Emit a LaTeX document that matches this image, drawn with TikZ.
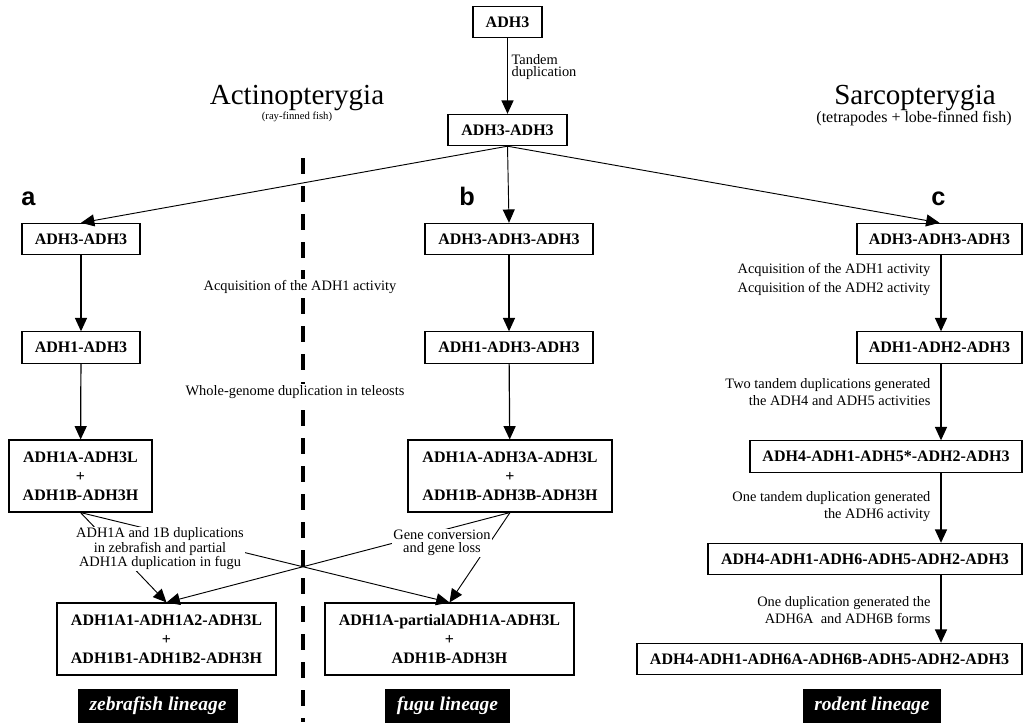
\documentclass[tikz,border=0pt]{standalone}
\usepackage{fontspec}
\setmainfont{Liberation Serif}
\newfontfamily\labsans{Liberation Sans}
\usetikzlibrary{arrows.meta}
\begin{document}
\begin{tikzpicture}[x=0.75pt,y=-0.75pt,
  box/.style={draw, line width=0.8pt, inner sep=0pt, align=center,
    font=\bfseries\fontsize{12}{14.25}\selectfont, minimum height=23.5pt},
  tall/.style={minimum height=54pt},
  lab/.style={font=\fontsize{10.8}{13}\selectfont, inner sep=1pt},
  tight/.style={font=\fontsize{10.8}{9.6}\selectfont},
  lin/.style={fill=black, text=white, inner sep=0pt, minimum height=26pt,
    font=\bfseries\itshape\fontsize{14.6}{16}\selectfont},
  arr/.style={-{Triangle[length=10pt,width=9pt]}, line width=0.9pt},
  arrthin/.style={-{Triangle[length=10pt,width=9pt]}, line width=0.7pt},
  dashline/.style={line width=2.6pt, dash pattern=on 12pt off 9pt},
  panel/.style={anchor=base, inner sep=0pt, font=\labsans\bfseries\fontsize{19}{20}\selectfont},
  title/.style={anchor=base, inner sep=0pt, font=\fontsize{21.8}{24}\selectfont}
]
\useasboundingbox (0,0) rectangle (1023,722);

% dashed separator
\coordinate (dtop) at (303,158);
\coordinate (dbot) at (303,722);
\draw[dashline] (dtop) -- (dbot);

% titles
\node[title] (actino) at (297,104) {Actinopterygia};
\node[anchor=base, inner sep=0pt, font=\fontsize{8}{9}\selectfont] (rayf) at (297,119) {(ray-finned fish)};
\node[title] (sarco) at (915,104) {Sarcopterygia};
\node[anchor=base, inner sep=0pt, font=\fontsize{12}{13}\selectfont] (tetra) at (914,122) {(tetrapodes + lobe-finned fish)};

% panel letters
\node[panel] (pa) at (28.5,205) {a};
\node[panel] (pb) at (467,205) {b};
\node[panel] (pc) at (938.5,205) {c};

% boxes
\node[box, minimum width=51.75pt] (top) at (507.5,22) {ADH3};
\node[box, minimum width=89.25pt] (tt) at (507.5,130) {ADH3-ADH3};

\node[box, minimum width=88.5pt] (a1) at (81,239) {ADH3-ADH3};
\node[box, minimum width=88.5pt] (a2) at (81,347.5) {ADH1-ADH3};
\node[box, tall, minimum width=107.25pt] (a3) at (80.5,476) {ADH1A-ADH3L\\+\\ADH1B-ADH3H};
\node[box, tall, minimum width=164.25pt] (a4) at (166.5,639) {ADH1A1-ADH1A2-ADH3L\\+\\ADH1B1-ADH1B2-ADH3H};

\node[box, minimum width=126pt] (b1) at (509,239) {ADH3-ADH3-ADH3};
\node[box, minimum width=126pt] (b2) at (509,347.5) {ADH1-ADH3-ADH3};
\node[box, tall, minimum width=153pt] (b3) at (510,476) {ADH1A-ADH3A-ADH3L\\+\\ADH1B-ADH3B-ADH3H};
\node[box, tall, minimum width=186.75pt] (b4) at (449.5,639) {ADH1A-partialADH1A-ADH3L\\+\\ADH1B-ADH3H};

\node[box, minimum width=123.75pt] (c1) at (939.5,239) {ADH3-ADH3-ADH3};
\node[box, minimum width=123.75pt] (c2) at (939.5,347.5) {ADH1-ADH2-ADH3};
\node[box, minimum width=204pt] (c3) at (886,456.5) {ADH4-ADH1-ADH5*-ADH2-ADH3};
\node[box, minimum width=235.5pt] (c4) at (865,559) {ADH4-ADH1-ADH6-ADH5-ADH2-ADH3};
\node[box, minimum width=288.75pt] (c5) at (829.5,659) {ADH4-ADH1-ADH6A-ADH6B-ADH5-ADH2-ADH3};

% lineage labels
\node[lin, minimum width=120pt] (zf) at (158,706) {zebrafish lineage};
\node[lin, minimum width=93.75pt] (fg) at (447.5,706) {fugu lineage};
\node[lin, minimum width=103.5pt] (rd) at (872,706) {rodent lineage};

% connectors
\draw[arr] (top) -- (tt);
\draw[arrthin] (tt.south) -- (a1.north);
\draw[arrthin] (tt.south) -- (b1.north);
\draw[arrthin] (tt.south) -- (c1.north);

\draw[arr] (a1) -- (a2);
\draw[arr] (a2) -- (a3);
\draw[arr] (b1) -- (b2);
\draw[arr] (b2) -- (b3);

\coordinate (cx) at (941,0);
\draw[arr] (c1.south -| cx) -- (c2.north -| cx);
\draw[arr] (c2.south -| cx) -- (c3.north -| cx);
\draw[arr] (c3.south -| cx) -- (c4.north -| cx);
\draw[arr] (c4.south -| cx) -- (c5.north -| cx);

\draw[arrthin] (a3.south) -- (a4.north);
\draw[arrthin] (a3.south) -- (b4.north);
\draw[arrthin] (b3.south) -- (a4.north);
\draw[arrthin] (b3.south) -- (b4.north);

% connector labels
\node[lab, anchor=west, align=left, font=\fontsize{10.8}{9.4}\selectfont] (tdup) at (510,67) {Tandem\\duplication};
\node[lab, fill=white] (acq) at (300,287) {Acquisition of the ADH1 activity};
\node[lab, fill=white] (wgd) at (295,392) {Whole-genome duplication in teleosts};
\node[lab, tight, fill=white, align=center] (dupl) at (160,549) {ADH1A and 1B duplications\\in zebrafish and partial\\ADH1A duplication in fugu};
\node[lab, tight, fill=white, align=center] (gc) at (442,543) {Gene conversion\\and gene loss};

\node[lab, anchor=east] (acq1) at (932,270) {Acquisition of the ADH1 activity};
\node[lab, anchor=east] (acq2) at (932,289) {Acquisition of the ADH2 activity};
\node[lab, anchor=east, align=right] (two) at (932,392) {Two tandem duplications generated\\the ADH4 and ADH5 activities};
\node[lab, anchor=east, align=right] (one) at (932,506.5) {One tandem duplication generated\\the ADH6 activity};
\node[lab, anchor=east, align=right] (oned) at (932,610) {One duplication generated the\\ADH6A\ \ and ADH6B forms};
\end{tikzpicture}
\end{document}
